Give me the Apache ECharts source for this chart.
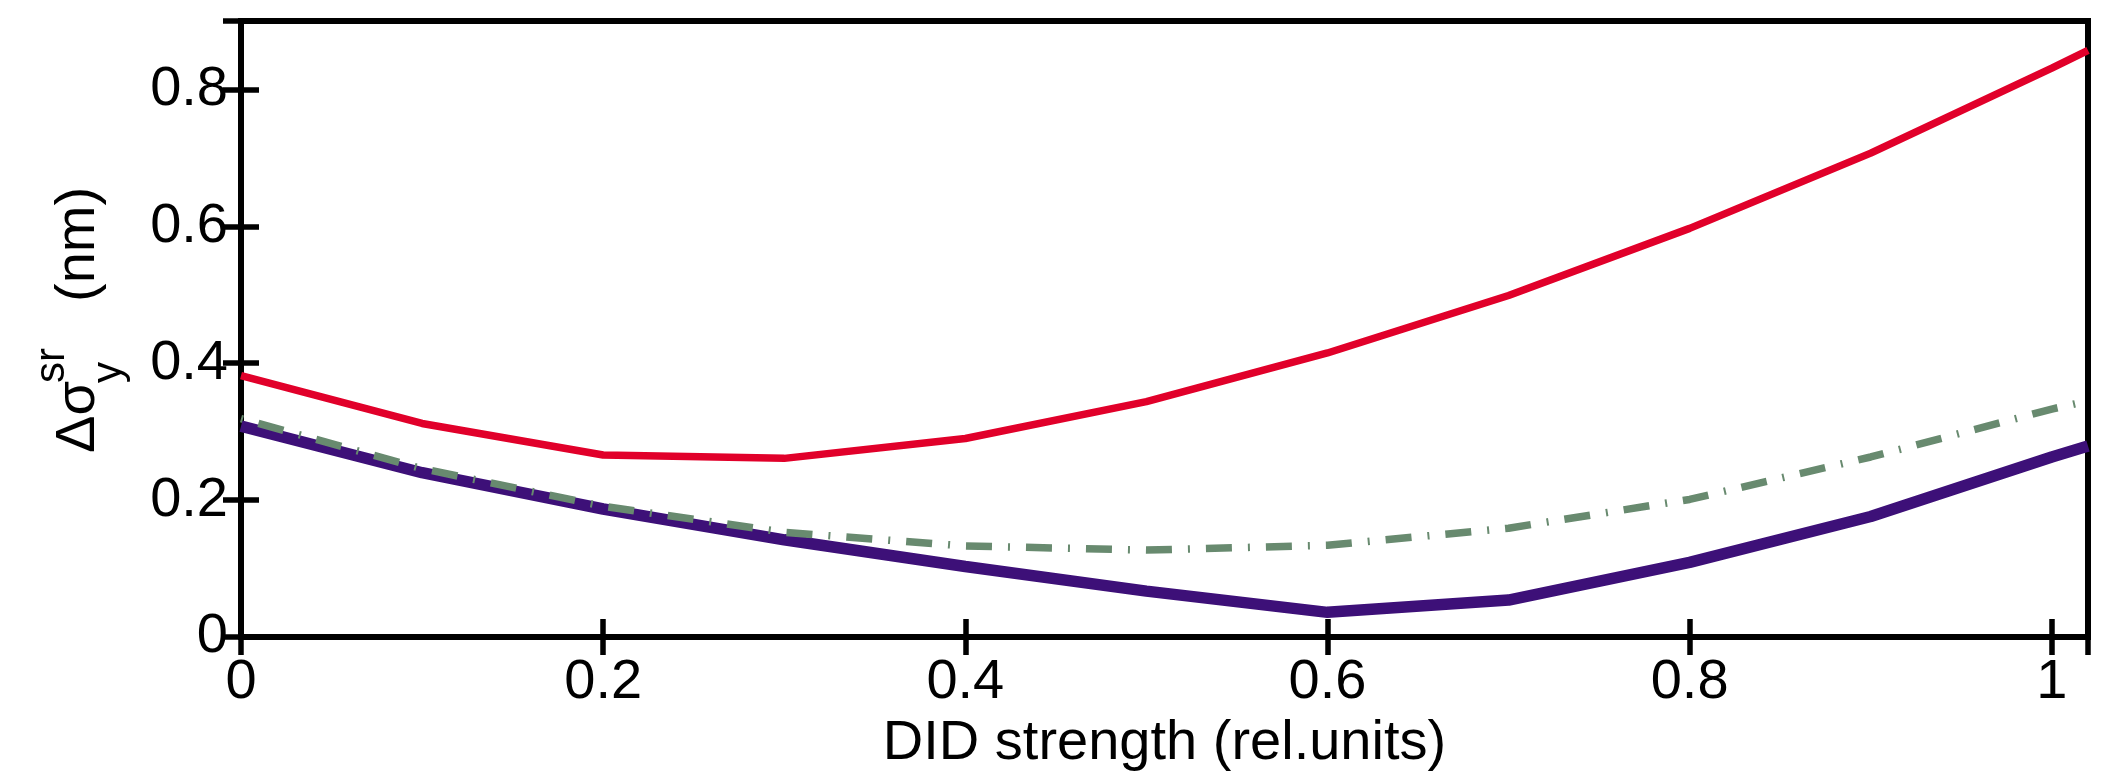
<!DOCTYPE html>
<html>
<head>
<meta charset="utf-8">
<script src="https://cdn.jsdelivr.net/npm/echarts@6/dist/echarts.min.js"></script>
<style>
  html, body { margin: 0; padding: 0; background: #ffffff; }
  #chart { width: 2101px; height: 780px; }
</style>
</head>
<body>
<div id="chart"></div>
<script>
// DID strength (relative units) sampled along the x axis
const strength = [0, 0.1, 0.2, 0.3, 0.4, 0.5, 0.6, 0.7, 0.8, 0.9, 1.0, 1.02];

// Δσ_y^sr (nm) for the three configurations
const redValues    = [0.382, 0.312, 0.266, 0.261, 0.290, 0.344, 0.415, 0.499, 0.597, 0.707, 0.831, 0.857];
const purpleValues = [0.308, 0.240, 0.187, 0.142, 0.103, 0.067, 0.036, 0.054, 0.109, 0.176, 0.263, 0.279];
const greenValues  = [0.319, 0.246, 0.191, 0.153, 0.133, 0.127, 0.134, 0.159, 0.201, 0.263, 0.333, 0.345];

// Axis ranges and tick step
const xRange = [0, 1.02];
const yRange = [0, 0.9];
const tickStep = 0.2;

const FONT = '"Liberation Sans", Arial, Helvetica, sans-serif';
const pairs = (ys) => strength.map((x, i) => [x, ys[i]]);
const onStep = (v) => Math.abs(v / tickStep - Math.round(v / tickStep)) < 1e-6;
const fmt = (v) => onStep(v) ? String(+v.toFixed(1)) : '';

const tickStyle = { show: true, inside: true, length: 18, lineStyle: { color: '#000', width: 5.5 } };
const labelStyle = { color: '#000', fontSize: 56, fontFamily: FONT, formatter: fmt };

const chart = echarts.init(document.getElementById('chart'), null, { renderer: 'canvas' });

// Rotated y-axis title: Δσ with stacked superscript "sr" and subscript "y", then "(nm)".
// Each piece is placed by its baseline x on screen and the screen y where it starts.
const titleSize = 56, scriptSize = 42;
const titleBaseX = 98;
function vText(str, size, baselineX, startY) {
  return {
    type: 'text', x: baselineX - 0.3465 * size, y: startY, rotation: Math.PI / 2,
    style: {
      text: str, fontSize: size, fontFamily: FONT, fill: '#000',
      align: 'left', verticalAlign: 'middle'
    }
  };
}

chart.setOption({
  animation: false,
  backgroundColor: '#ffffff',
  grid: {
    left: 241, right: 13, top: 21, bottom: 143,
    show: true, borderColor: '#000', borderWidth: 6, backgroundColor: 'transparent'
  },
  xAxis: [
    {
      type: 'value', position: 'bottom', min: xRange[0], max: xRange[1], interval: tickStep,
      axisLine: { show: false }, axisTick: tickStyle, splitLine: { show: false },
      axisLabel: Object.assign({ margin: 18 }, labelStyle),
      name: 'DID strength (rel.units)', nameLocation: 'middle', nameGap: 79,
      nameTextStyle: { color: '#000', fontSize: 56, fontFamily: FONT }
    },
    {
      type: 'value', position: 'top', min: xRange[0], max: xRange[1], interval: tickStep,
      axisLine: { show: false }, axisTick: tickStyle, splitLine: { show: false },
      axisLabel: { show: false }
    }
  ],
  yAxis: [
    {
      type: 'value', position: 'left', min: yRange[0], max: yRange[1], interval: tickStep,
      axisLine: { show: false }, axisTick: tickStyle, splitLine: { show: false },
      axisLabel: Object.assign({ margin: 13 }, labelStyle)
    },
    {
      type: 'value', position: 'right', min: yRange[0], max: yRange[1], interval: tickStep,
      axisLine: { show: false }, axisTick: tickStyle, splitLine: { show: false },
      axisLabel: { show: false }
    }
  ],
  graphic: [
    vText('Δσ', titleSize, titleBaseX, 453),
    vText('y', scriptSize, titleBaseX + 26, 383),
    vText('sr', scriptSize, titleBaseX - 31, 383),
    vText('(nm)', titleSize, titleBaseX, 302)
  ],
  series: [
    {
      type: 'line', data: pairs(redValues), showSymbol: false, symbol: 'none', clip: true,
      lineStyle: { color: '#E1002A', width: 7.5 }, z: 2
    },
    {
      type: 'line', data: pairs(purpleValues), showSymbol: false, symbol: 'none', clip: true,
      lineStyle: { color: '#3D1078', width: 11.5 }, z: 3
    },
    {
      type: 'line', data: pairs(greenValues), showSymbol: false, symbol: 'none', clip: true,
      lineStyle: { color: '#688A6F', width: 7.5, type: [2, 16, 26, 16], cap: 'butt' }, z: 4
    }
  ]
});
</script>
</body>
</html>
